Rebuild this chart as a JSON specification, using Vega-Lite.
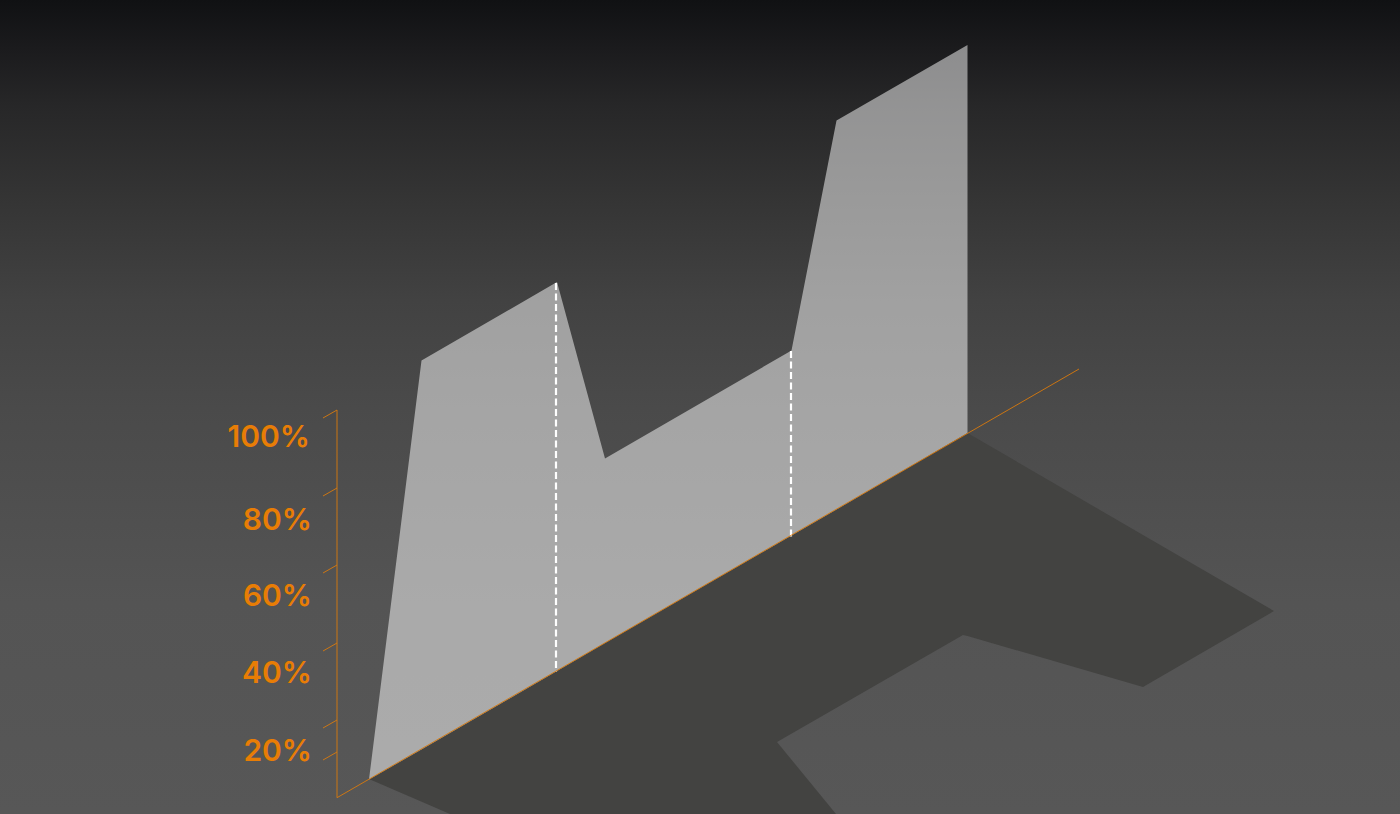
{
  "$schema": "https://vega.github.io/schema/vega-lite/v6.json",
  "description": "Isometric stepped share chart with a cast shadow on a dark floor",
  "width": 1400,
  "height": 814,
  "padding": 0,
  "autosize": {"type": "fit", "contains": "padding"},
  "background": "#555555",
  "datasets": {
    "backdrop": [{"x": 0, "x2": 1400, "y": 0, "y2": 814}],
    "shadow": [
      {"part": "left", "x": 369, "top": 779, "bottom": 779},
      {"part": "left", "x": 450, "top": 732, "bottom": 814},
      {"part": "left", "x": 777, "top": 543, "bottom": 814},
      {"part": "right", "x": 777, "top": 543, "bottom": 742},
      {"part": "right", "x": 963, "top": 435.5, "bottom": 635},
      {"part": "right", "x": 967.5, "top": 433, "bottom": 636},
      {"part": "right", "x": 1143, "top": 535, "bottom": 687},
      {"part": "right", "x": 1274, "top": 611, "bottom": 611},
      {"part": "notch", "x": 777, "top": 742, "bottom": 814},
      {"part": "notch", "x": 836, "top": 814, "bottom": 814}
    ],
    "wall": [
      {"x": 369, "top": 779.5, "bottom": 779.5},
      {"x": 421.5, "top": 360.5, "bottom": 749.5},
      {"x": 557, "top": 282, "bottom": 671},
      {"x": 605, "top": 458.5, "bottom": 643},
      {"x": 791.5, "top": 350.5, "bottom": 535.5},
      {"x": 836.5, "top": 120.5, "bottom": 509.5},
      {"x": 967.5, "top": 45, "bottom": 433}
    ],
    "dividers": [
      {"x": 556, "y": 283, "x2": 556, "y2": 672},
      {"x": 791, "y": 351, "x2": 791, "y2": 536.5}
    ],
    "axisLines": [
      {"x": 337, "y": 797.7, "x2": 1079, "y2": 369},
      {"x": 337, "y": 797.7, "x2": 337, "y2": 410},
      {"x": 323, "y": 418, "x2": 337, "y2": 410},
      {"x": 323, "y": 496, "x2": 337, "y2": 488},
      {"x": 323, "y": 573, "x2": 337, "y2": 565},
      {"x": 323, "y": 651, "x2": 337, "y2": 643},
      {"x": 323, "y": 728, "x2": 337, "y2": 720},
      {"x": 323, "y": 760, "x2": 337, "y2": 752}
    ],
    "labels": [
      {"x": 310, "y": 447, "label": "100%"},
      {"x": 312, "y": 530, "label": "80%"},
      {"x": 312, "y": 606, "label": "60%"},
      {"x": 312, "y": 683, "label": "40%"},
      {"x": 312, "y": 761, "label": "20%"}
    ]
  },
  "layer": [
    {
      "data": {"name": "backdrop"},
      "mark": {
        "type": "rect",
        "fill": {
          "gradient": "linear",
          "x1": 0, "y1": 0, "x2": 0, "y2": 1,
          "stops": [
            {"offset": 0, "color": "#101113"},
            {"offset": 0.06, "color": "#1b1b1d"},
            {"offset": 0.13, "color": "#272728"},
            {"offset": 0.25, "color": "#353535"},
            {"offset": 0.37, "color": "#424242"},
            {"offset": 0.5, "color": "#4a4a4a"},
            {"offset": 0.62, "color": "#4f4f4f"},
            {"offset": 0.74, "color": "#545454"},
            {"offset": 1, "color": "#575757"}
          ]
        }
      },
      "encoding": {
        "x": {"field": "x", "type": "quantitative", "scale": {"domain": [0, 1400], "nice": false, "zero": false}, "axis": null},
        "x2": {"field": "x2"},
        "y": {"field": "y", "type": "quantitative", "scale": {"domain": [814, 0], "nice": false, "zero": false}, "axis": null},
        "y2": {"field": "y2"}
      }
    },
    {
      "data": {"name": "shadow"},
      "mark": {"type": "area", "fill": "#434341"},
      "encoding": {
        "x": {"field": "x", "type": "quantitative", "scale": {"domain": [0, 1400], "nice": false, "zero": false}, "axis": null},
        "y": {"field": "top", "type": "quantitative", "stack": false, "scale": {"domain": [814, 0], "nice": false, "zero": false}, "axis": null},
        "y2": {"field": "bottom"},
        "detail": {"field": "part"}
      }
    },
    {
      "data": {"name": "wall"},
      "mark": {"type": "area", "fill": "#ffffff", "fillOpacity": 0.5},
      "encoding": {
        "x": {"field": "x", "type": "quantitative", "scale": {"domain": [0, 1400], "nice": false, "zero": false}, "axis": null},
        "y": {"field": "top", "type": "quantitative", "scale": {"domain": [814, 0], "nice": false, "zero": false}, "axis": null},
        "y2": {"field": "bottom"}
      }
    },
    {
      "data": {"name": "dividers"},
      "mark": {"type": "rule", "color": "#ffffff", "strokeWidth": 2.2, "strokeDash": [7, 3.5]},
      "encoding": {
        "x": {"field": "x", "type": "quantitative", "scale": {"domain": [0, 1400], "nice": false, "zero": false}, "axis": null},
        "y": {"field": "y", "type": "quantitative", "scale": {"domain": [814, 0], "nice": false, "zero": false}, "axis": null},
        "x2": {"field": "x2"},
        "y2": {"field": "y2"}
      }
    },
    {
      "data": {"name": "axisLines"},
      "mark": {"type": "rule", "color": "#d97a0c", "strokeWidth": 1, "opacity": 0.9},
      "encoding": {
        "x": {"field": "x", "type": "quantitative", "scale": {"domain": [0, 1400], "nice": false, "zero": false}, "axis": null},
        "y": {"field": "y", "type": "quantitative", "scale": {"domain": [814, 0], "nice": false, "zero": false}, "axis": null},
        "x2": {"field": "x2"},
        "y2": {"field": "y2"}
      }
    },
    {
      "data": {"name": "labels"},
      "mark": {"type": "text", "align": "right", "baseline": "alphabetic", "font": "Inter", "fontSize": 30, "fontWeight": 600, "color": "#e87d05"},
      "encoding": {
        "x": {"field": "x", "type": "quantitative", "scale": {"domain": [0, 1400], "nice": false, "zero": false}, "axis": null},
        "y": {"field": "y", "type": "quantitative", "scale": {"domain": [814, 0], "nice": false, "zero": false}, "axis": null},
        "text": {"field": "label"}
      }
    }
  ],
  "config": {"view": {"stroke": null}}
}
